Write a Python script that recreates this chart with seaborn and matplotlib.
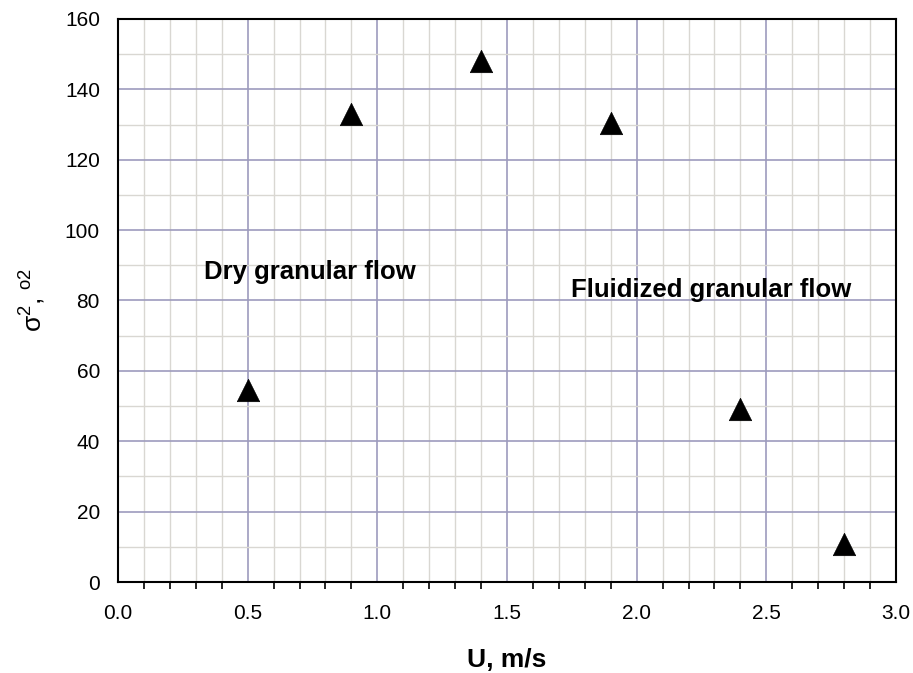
import numpy as np
import pandas as pd
import matplotlib
matplotlib.use("Agg")
import matplotlib.pyplot as plt
from matplotlib.ticker import MultipleLocator
import seaborn as sns

# measured points
velocity = [0.5, 0.9, 1.4, 1.9, 2.4, 2.8]
variance = [54.5, 133.0, 148.2, 130.3, 49.2, 10.8]

x_ticks = [0.0, 0.5, 1.0, 1.5, 2.0, 2.5, 3.0]
y_ticks = [0, 20, 40, 60, 80, 100, 120, 140, 160]

df = pd.DataFrame({'U': velocity, 'var': variance})

sns.set_style("white")
plt.rcParams['font.family'] = ['Liberation Sans', 'DejaVu Sans']
plt.rcParams['mathtext.default'] = 'regular'
plt.rcParams['text.color'] = 'black'
plt.rcParams['axes.labelcolor'] = 'black'
plt.rcParams['xtick.color'] = 'black'
plt.rcParams['ytick.color'] = 'black'

fig = plt.figure(figsize=(9.13, 6.73), dpi=100)
ax = fig.add_axes([0.1292, 0.1352, 0.8522, 0.8366])

sns.scatterplot(data=df, x='U', y='var', marker='^', s=260, color='black',
                edgecolor='black', linewidth=0.5, ax=ax, zorder=5, clip_on=False)

ax.set_xlim(0, 3.0)
ax.set_ylim(0, 160)
ax.set_xticks(x_ticks)
ax.set_xticklabels([f"{v:.1f}" for v in x_ticks])
ax.set_yticks(y_ticks)
ax.xaxis.set_minor_locator(MultipleLocator(0.1))
ax.yaxis.set_minor_locator(MultipleLocator(10))

ax.grid(which='minor', color='#d9d7d2', linewidth=1.0)
ax.grid(which='major', color='#9d9bbd', linewidth=1.2)
ax.set_axisbelow(True)

for side in ['left', 'bottom', 'top', 'right']:
    ax.spines[side].set_visible(True)
    ax.spines[side].set_color('black')
    ax.spines[side].set_linewidth(1.5)

ax.tick_params(axis='both', which='major', direction='out', length=6, width=1.2,
               labelsize=15, pad=7)
ax.tick_params(axis='x', which='major', pad=10)
ax.tick_params(axis='x', which='minor', direction='out', length=5, width=1.2,
               bottom=True)
ax.tick_params(axis='y', which='minor', left=False)

ax.set_xlabel('U, m/s', fontsize=19, fontweight='bold', labelpad=18)
ax.set_ylabel(r'$\sigma^2$, $^{o2}$', fontsize=19, labelpad=12)

ax.text(0.33, 88, 'Dry granular flow', fontsize=18.5, fontweight='bold', va='center')
ax.text(1.745, 83, 'Fluidized granular flow', fontsize=18.5, fontweight='bold', va='center')

fig.savefig('out.png', dpi=100)
